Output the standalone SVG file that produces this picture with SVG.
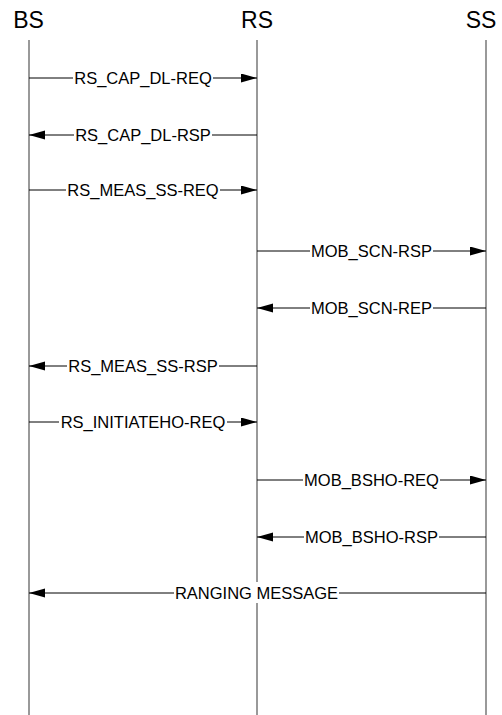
<svg xmlns="http://www.w3.org/2000/svg" width="502" height="715" viewBox="0 0 502 715">
<style>
.hdr{font-family:"Liberation Sans",Arial,sans-serif;font-size:23px;fill:#000;text-anchor:middle}
.life{stroke:#777;stroke-width:1.5;fill:none}
.msg{stroke:#000;stroke-width:1;fill:none}
.lbl{font-family:"Liberation Sans",Arial,sans-serif;font-size:16.5px;fill:#000;text-anchor:middle}
.bg{fill:#fff}
</style>
<defs>
<marker id="ah" markerUnits="userSpaceOnUse" markerWidth="16" markerHeight="10" refX="16" refY="4.5" orient="auto">
<path d="M0,0 L16,4.5 L0,9 z" fill="#000"/>
</marker>
</defs>
<rect width="502" height="715" fill="#fff"/>
<g id="node-BS">
<text class="hdr" x="28.5" y="28">BS</text>
<line class="life" x1="29" y1="40" x2="29" y2="715"/>
</g>
<g id="node-RS">
<text class="hdr" x="257" y="28">RS</text>
<line class="life" x1="257" y1="40" x2="257" y2="715"/>
</g>
<g id="node-SS">
<text class="hdr" x="481" y="28">SS</text>
<line class="life" x1="486" y1="40" x2="486" y2="715"/>
</g>
<g id="connectors">
<line class="msg" x1="29" y1="78" x2="257" y2="78" marker-end="url(#ah)"/>
<rect class="bg" x="73" y="68" width="140" height="20"/>
<text class="lbl" x="143" y="84">RS_CAP_DL-REQ</text>

<line class="msg" x1="257" y1="135" x2="29" y2="135" marker-end="url(#ah)"/>
<rect class="bg" x="74" y="125" width="138" height="20"/>
<text class="lbl" x="143" y="141">RS_CAP_DL-RSP</text>

<line class="msg" x1="29" y1="190" x2="257" y2="190" marker-end="url(#ah)"/>
<rect class="bg" x="66" y="180" width="154" height="20"/>
<text class="lbl" x="143" y="196">RS_MEAS_SS-REQ</text>

<line class="msg" x1="257" y1="251" x2="486" y2="251" marker-end="url(#ah)"/>
<rect class="bg" x="310" y="241" width="123" height="20"/>
<text class="lbl" x="371.5" y="257">MOB_SCN-RSP</text>

<line class="msg" x1="486" y1="308" x2="257" y2="308" marker-end="url(#ah)"/>
<rect class="bg" x="310" y="298" width="123" height="20"/>
<text class="lbl" x="371.5" y="314">MOB_SCN-REP</text>

<line class="msg" x1="257" y1="366" x2="29" y2="366" marker-end="url(#ah)"/>
<rect class="bg" x="67" y="356" width="152" height="20"/>
<text class="lbl" x="143" y="372">RS_MEAS_SS-RSP</text>

<line class="msg" x1="29" y1="422" x2="257" y2="422" marker-end="url(#ah)"/>
<rect class="bg" x="59" y="412" width="168" height="20"/>
<text class="lbl" x="143" y="428">RS_INITIATEHO-REQ</text>

<line class="msg" x1="257" y1="480" x2="486" y2="480" marker-end="url(#ah)"/>
<rect class="bg" x="303" y="470" width="137" height="20"/>
<text class="lbl" x="371.5" y="486">MOB_BSHO-REQ</text>

<line class="msg" x1="486" y1="537" x2="257" y2="537" marker-end="url(#ah)"/>
<rect class="bg" x="304" y="527" width="135" height="20"/>
<text class="lbl" x="371.5" y="543">MOB_BSHO-RSP</text>

<line class="msg" x1="486" y1="593" x2="29" y2="593" marker-end="url(#ah)"/>
<rect class="bg" x="174" y="582" width="165" height="21"/>
<text class="lbl" x="256.5" y="599">RANGING MESSAGE</text>
</g>
</svg>
